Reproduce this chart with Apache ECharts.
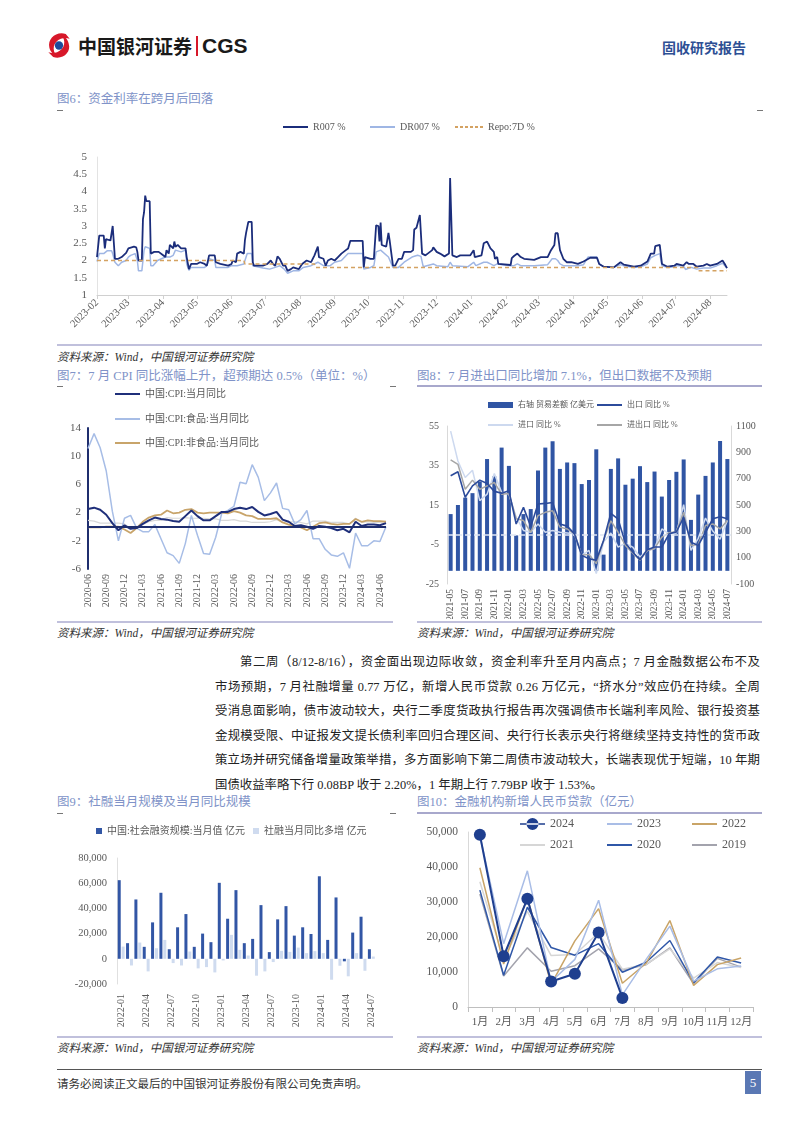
<!DOCTYPE html>
<html><head><meta charset="utf-8">
<script src="https://cdn.jsdelivr.net/npm/echarts@6/dist/echarts.min.js"></script>
<style>
body{margin:0;width:802px;height:1133px;position:relative;background:#fff;font-family:"Liberation Serif","Noto Sans CJK SC",serif;overflow:hidden}
.t{position:absolute;font-size:12.5px;color:#8093c8;white-space:nowrap;line-height:16px}
.src{position:absolute;font-size:11.5px;font-style:italic;color:#333;white-space:nowrap;line-height:14px}
.hl{position:absolute;height:2px;background:#c0c0dc}
.dash{position:absolute;width:6px;height:1px;background:#777}
.ch{position:absolute}
.para{position:absolute;left:215px;width:545px;font-size:12.4px;color:#222;line-height:24.6px;top:650px}
.para div{text-align:justify;text-align-last:justify;white-space:nowrap}
</style></head>
<body>
<svg class="ch" style="left:45px;top:31px" width="28" height="29" viewBox="0 0 28 30">
<path d="M21 3 C11 0 2 8 4 17 C5 22 9 25 12 26 C6 20 8 11 16 8 C19 7 22 7 25 8 Z" fill="#d7182a"/>
<path d="M8 27 C18 30 27 22 24 13 C23 8 19 5 16 4 C22 10 20 19 12 22 C9 23 6 23 3 22 Z" fill="#d7182a"/>
<circle cx="14" cy="15" r="4.3" fill="#1d4a9c"/>
</svg>
<div class="ch" style="left:78px;top:33px;font-family:'Noto Sans CJK SC';font-weight:700;font-size:19px;line-height:26px;color:#1a1a1a">中国银河证券</div>
<div class="ch" style="left:196px;top:36px;width:2px;height:20px;background:#d7182a"></div>
<div class="ch" style="left:202px;top:32px;font-family:'Liberation Sans';font-weight:700;font-size:21px;line-height:27px;color:#1a1a1a">CGS</div>
<div class="ch" style="left:662px;top:37px;font-family:'Noto Sans CJK SC';font-weight:700;font-size:14px;line-height:20px;color:#2d4f94">固收研究报告</div>

<div class="t" style="left:57px;top:91px">图6：资金利率在跨月后回落</div>
<div class="dash" style="left:57px;top:110px"></div><div class="dash" style="left:757px;top:110px"></div>
<div id="c6" class="ch" style="left:50px;top:115px;width:720px;height:228px"></div>
<div class="hl" style="left:57px;top:344px;width:705px"></div>
<div class="src" style="left:57px;top:350px">资料来源：Wind，中国银河证券研究院</div>

<div class="t" style="left:57px;top:368px">图7：7 月 CPI 同比涨幅上升，超预期达 0.5%（单位：%）</div>
<div class="dash" style="left:57px;top:386px"></div><div class="dash" style="left:390px;top:386px"></div>
<div class="t" style="left:417px;top:368px">图8：7 月进出口同比增加 7.1%，但出口数据不及预期</div>
<div class="ch" style="left:417px;top:385px;width:345px;height:1.5px;background:#a8a8cc"></div>
<div id="c7" class="ch" style="left:50px;top:385px;width:350px;height:234px"></div>
<div id="c8" class="ch" style="left:405px;top:387px;width:370px;height:232px"></div>
<div class="hl" style="left:57px;top:621px;width:336px"></div>
<div class="hl" style="left:417px;top:621px;width:345px"></div>
<div class="src" style="left:57px;top:626px">资料来源：Wind，中国银河证券研究院</div>
<div class="src" style="left:417px;top:626px">资料来源：Wind，中国银河证券研究院</div>

<div class="para">
<div style="margin-left:25px">第二周（8/12-8/16），资金面出现边际收敛，资金利率升至月内高点；7 月金融数据公布不及</div>
<div>市场预期，7 月社融增量 0.77 万亿，新增人民币贷款 0.26 万亿元，“挤水分”效应仍在持续。全周</div>
<div>受消息面影响，债市波动较大，央行二季度货政执行报告再次强调债市长端利率风险、银行投资基</div>
<div>金规模受限、中证报发文提长债利率回归合理区间、央行行长表示央行将继续坚持支持性的货币政</div>
<div>策立场并研究储备增量政策举措，多方面影响下第二周债市波动较大，长端表现优于短端，10 年期</div>
<div style="text-align-last:left">国债收益率略下行 0.08BP 收于 2.20%，1 年期上行 7.79BP 收于 1.53%。</div>
</div>

<div class="t" style="left:57px;top:794px">图9：社融当月规模及当月同比规模</div>
<div class="dash" style="left:57px;top:813px"></div><div class="dash" style="left:390px;top:813px"></div>
<div class="t" style="left:417px;top:794px">图10：金融机构新增人民币贷款（亿元）</div>
<div class="ch" style="left:417px;top:812px;width:345px;height:1.5px;background:#a8a8cc"></div>
<div id="c9" class="ch" style="left:50px;top:815px;width:350px;height:220px"></div>
<div id="c10" class="ch" style="left:405px;top:815px;width:370px;height:220px"></div>
<div class="hl" style="left:57px;top:1036px;width:336px"></div>
<div class="hl" style="left:417px;top:1036px;width:345px"></div>
<div class="src" style="left:57px;top:1041px">资料来源：Wind，中国银河证券研究院</div>
<div class="src" style="left:417px;top:1041px">资料来源：Wind，中国银河证券研究院</div>

<div class="ch" style="left:57px;top:1069px;width:705px;height:1px;background:#555"></div>
<div class="ch" style="left:57px;top:1076px;font-size:11.5px;line-height:15px;color:#333;font-family:'Noto Sans CJK SC'">请务必阅读正文最后的中国银河证券股份有限公司免责声明。</div>
<div class="ch" style="left:745px;top:1071px;width:16px;height:23px;background:#5a78b4;color:#fff;font-size:13px;line-height:23px;text-align:center">5</div>

<script>
// ---------------- DATA ----------------
const fig6Legend = ['R007 %', 'DR007 %', 'Repo:7D %'];
const r007 = [
['2023-02-01',2.10],['2023-02-03',2.72],['2023-02-07',2.72],['2023-02-08',2.35],['2023-02-09',2.62],['2023-02-13',2.58],['2023-02-15',3.00],['2023-02-17',2.05],['2023-02-20',2.05],['2023-02-23',2.10],['2023-02-27',2.22],
['2023-03-01',2.35],['2023-03-06',2.40],['2023-03-08',2.38],['2023-03-09',2.25],['2023-03-10',2.00],['2023-03-13',2.00],['2023-03-14',3.20],['2023-03-15',3.40],['2023-03-16',3.88],['2023-03-17',3.72],['2023-03-20',3.72],['2023-03-21',2.20],['2023-03-24',2.25],['2023-03-28',2.25],
['2023-04-01',2.15],['2023-04-03',2.10],['2023-04-04',2.30],['2023-04-06',2.20],['2023-04-07',2.45],['2023-04-10',2.35],['2023-04-11',2.55],['2023-04-12',2.40],['2023-04-14',2.45],['2023-04-17',2.35],['2023-04-21',2.35],['2023-04-22',2.10],['2023-04-24',1.75],['2023-04-26',1.90],
['2023-05-01',1.90],['2023-05-04',1.95],['2023-05-08',1.90],['2023-05-10',1.85],['2023-05-11',1.85],['2023-05-12',2.15],['2023-05-17',2.15],['2023-05-18',1.95],['2023-05-22',1.90],['2023-05-29',1.85],
['2023-06-01',1.90],['2023-06-02',2.00],['2023-06-05',1.95],['2023-06-06',2.20],['2023-06-09',2.25],['2023-06-12',2.20],['2023-06-13',2.60],['2023-06-14',2.80],['2023-06-16',3.12],['2023-06-19',3.12],['2023-06-20',1.95],['2023-06-21',1.85],['2023-06-29',1.85],
['2023-07-03',1.90],['2023-07-06',2.00],['2023-07-08',1.90],['2023-07-10',1.85],['2023-07-12',2.12],['2023-07-14',2.05],['2023-07-17',1.85],['2023-07-19',1.85],['2023-07-21',1.70],['2023-07-24',1.75],['2023-07-26',1.80],['2023-07-31',1.75],
['2023-08-03',1.90],['2023-08-07',2.00],['2023-08-11',1.95],['2023-08-14',2.15],['2023-08-17',2.40],['2023-08-18',2.10],['2023-08-22',2.05],['2023-08-24',1.85],['2023-08-26',2.00],['2023-08-29',2.05],
['2023-09-01',2.00],['2023-09-04',2.10],['2023-09-07',2.20],['2023-09-11',2.30],['2023-09-13',2.35],['2023-09-15',2.57],['2023-09-26',2.57],['2023-09-27',1.80],['2023-09-28',2.10],
['2023-10-03',2.05],['2023-10-06',2.05],['2023-10-08',3.02],['2023-10-10',3.00],['2023-10-11',2.55],['2023-10-12',3.10],['2023-10-13',2.45],['2023-10-17',2.40],['2023-10-19',2.80],['2023-10-20',2.60],['2023-10-23',1.85],['2023-10-25',1.85],['2023-10-28',2.05],['2023-10-31',2.05],
['2023-11-02',2.25],['2023-11-08',2.25],['2023-11-10',2.30],['2023-11-11',2.90],['2023-11-13',2.95],['2023-11-16',3.32],['2023-11-18',2.20],['2023-11-21',2.15],['2023-11-23',2.20],['2023-11-27',2.30],['2023-11-28',2.38],
['2023-12-01',2.25],['2023-12-04',2.20],['2023-12-08',2.12],['2023-12-12',2.20],['2023-12-13',4.39],['2023-12-15',2.15],['2023-12-19',2.10],['2023-12-22',2.15],['2023-12-31',2.15],
['2024-01-03',2.30],['2024-01-04',2.10],['2024-01-10',2.15],['2024-01-12',2.50],['2024-01-13',2.55],['2024-01-15',2.55],['2024-01-18',2.35],['2024-01-21',2.25],['2024-01-22',2.05],['2024-01-24',2.10],['2024-01-25',1.90],
['2024-02-05',1.87],['2024-02-06',2.07],['2024-02-08',2.13],['2024-02-11',2.20],['2024-02-14',2.10],['2024-02-17',2.05],['2024-02-26',2.02],
['2024-03-03',2.10],['2024-03-09',2.10],['2024-03-12',2.30],['2024-03-15',2.45],['2024-03-16',2.79],['2024-03-18',2.79],['2024-03-20',2.30],['2024-03-23',2.05],['2024-03-26',1.95],['2024-03-30',1.95],
['2024-04-05',1.90],['2024-04-10',1.97],['2024-04-16',2.08],['2024-04-22',2.08],['2024-04-24',1.90],['2024-04-28',1.82],
['2024-05-07',1.80],['2024-05-13',1.95],['2024-05-16',1.88],['2024-05-25',1.82],['2024-05-31',1.85],
['2024-06-06',1.97],['2024-06-09',2.20],['2024-06-12',2.20],['2024-06-13',2.42],['2024-06-17',2.45],['2024-06-19',1.90],['2024-06-24',1.82],['2024-06-30',1.85],
['2024-07-02',1.90],['2024-07-08',1.85],['2024-07-11',1.95],['2024-07-13',1.90],['2024-07-17',1.90],['2024-07-20',1.82],['2024-07-26',1.85],['2024-07-29',1.90],
['2024-08-01',1.85],['2024-08-07',1.90],['2024-08-12',2.00],['2024-08-14',1.90],['2024-08-16',1.78]];
const dr007 = [
['2023-02-01',1.97],['2023-02-03',2.20],['2023-02-07',2.20],['2023-02-10',2.28],['2023-02-14',2.28],['2023-02-15',2.20],['2023-02-17',1.95],['2023-02-20',1.85],['2023-02-23',1.95],['2023-02-27',2.00],
['2023-03-01',2.10],['2023-03-03',2.15],['2023-03-07',2.20],['2023-03-09',2.00],['2023-03-10',1.70],['2023-03-13',1.70],['2023-03-15',2.30],['2023-03-16',2.40],['2023-03-20',2.35],['2023-03-21',1.85],['2023-03-23',1.85],['2023-03-27',2.00],
['2023-04-03',2.10],['2023-04-07',2.10],['2023-04-10',2.15],['2023-04-12',2.30],['2023-04-17',2.25],['2023-04-21',2.30],['2023-04-22',1.90],['2023-04-24',1.72],['2023-04-26',1.80],
['2023-05-01',1.80],['2023-05-08',1.80],['2023-05-10',1.85],['2023-05-12',2.05],['2023-05-17',2.00],['2023-05-18',1.80],['2023-05-29',1.80],
['2023-06-01',1.85],['2023-06-06',1.85],['2023-06-12',1.90],['2023-06-15',2.20],['2023-06-19',2.20],['2023-06-20',1.85],['2023-06-29',1.78],
['2023-07-05',1.75],['2023-07-10',1.80],['2023-07-14',1.85],['2023-07-18',1.75],['2023-07-21',1.63],['2023-07-26',1.70],['2023-07-31',1.70],
['2023-08-04',1.80],['2023-08-11',1.85],['2023-08-17',1.95],['2023-08-22',1.85],['2023-08-28',1.85],
['2023-09-01',1.95],['2023-09-07',2.00],['2023-09-13',2.20],['2023-09-26',2.20],['2023-09-27',1.75],
['2023-10-03',1.80],['2023-10-06',1.85],['2023-10-08',2.25],['2023-10-12',2.30],['2023-10-19',2.10],['2023-10-23',1.80],['2023-10-28',1.80],
['2023-11-02',1.95],['2023-11-09',2.10],['2023-11-14',2.15],['2023-11-17',2.12],['2023-11-19',1.82],['2023-11-28',1.90],
['2023-12-01',1.85],['2023-12-11',1.82],['2023-12-13',1.95],['2023-12-15',1.85],['2023-12-29',1.82],
['2024-01-03',1.95],['2024-01-05',1.85],['2024-01-12',1.95],['2024-01-15',1.95],['2024-01-18',1.90],['2024-01-21',1.85],['2024-01-24',1.90],['2024-01-25',1.85],
['2024-02-05',1.85],['2024-02-08',1.85],['2024-02-11',1.90],['2024-02-14',1.85],['2024-02-26',1.85],
['2024-03-09',1.88],['2024-03-13',2.05],['2024-03-16',2.05],['2024-03-18',2.00],['2024-03-20',1.90],['2024-03-23',1.85],
['2024-04-05',1.85],['2024-04-10',1.88],['2024-04-14',2.10],['2024-04-22',2.10],['2024-04-24',1.90],['2024-04-28',1.82],
['2024-05-07',1.80],['2024-05-13',1.88],['2024-05-16',1.85],['2024-05-25',1.80],['2024-05-31',1.82],
['2024-06-06',1.90],['2024-06-09',2.08],['2024-06-13',2.15],['2024-06-17',2.20],['2024-06-19',1.85],['2024-06-24',1.80],['2024-06-30',1.82],
['2024-07-02',1.85],['2024-07-08',1.85],['2024-07-10',1.74],['2024-07-15',1.80],['2024-07-20',1.75],['2024-07-26',1.78],
['2024-08-01',1.78],['2024-08-07',1.85],['2024-08-12',1.92],['2024-08-16',1.78]];
const repo7d = [['2023-02-01',2.0],['2023-06-12',2.0],['2023-06-13',1.9],['2023-08-14',1.9],['2023-08-15',1.8],['2024-07-21',1.8],['2024-07-22',1.7],['2024-08-16',1.7]];

function months(y0,m0,y1,m1){const a=[];let y=y0,m=m0;while(y<y1||(y===y1&&m<=m1)){a.push(y+'-'+String(m).padStart(2,'0'));m++;if(m>12){m=1;y++;}}return a;}

const cpiMonths = months(2020,6,2024,7);
const cpiNames = ['中国:CPI:当月同比','中国:CPI:食品:当月同比','中国:CPI:非食品:当月同比'];
const cpiAll = [2.5,2.7,2.4,1.7,0.5,-0.5,0.2, -0.3,-0.2,0.4,0.9,1.3,1.1,1.0,0.8,0.7,1.5,2.3,1.5, 0.9,0.9,1.5,2.1,2.1,2.5,2.7,2.5,2.8,2.1,1.6,1.8, 2.1,1.0,0.7,0.1,0.2,0.0,-0.3,0.1,0.0,-0.2,-0.5,-0.3, -0.8,0.7,0.1,0.3,0.3,0.2,0.5];
const cpiFood = [11.1,13.2,11.2,7.9,2.2,-2.0,1.2, 1.6,-0.2,-0.7,-0.7,0.3,-1.7,-3.7,-4.1,-5.2,-2.4,1.6,-1.2, -3.8,-3.9,-1.5,1.9,2.3,2.9,6.3,6.1,8.8,7.0,3.7,4.8, 6.2,2.6,2.4,0.4,1.0,2.3,-1.7,-1.7,-3.2,-4.0,-4.2,-3.7, -5.9,-0.9,-2.7,-2.7,-2.0,-2.1,0.0];
const cpiNonFood = [-0.1,-0.1,-0.1,0.0,0.0,0.0,-0.4, -0.9,-0.2,0.7,1.3,1.6,1.7,2.3,1.9,2.0,2.4,2.5,2.0, 1.9,2.0,2.0,2.0,1.9,2.2,2.0,1.6,1.5,1.1,1.1,1.1, 1.2,0.6,0.3,0.1,-0.1,-0.5,0.0,0.5,0.6,0.4,0.3,0.4, 0.4,1.1,0.7,0.9,0.8,0.8,0.7];
const cpiCore = [0.9,0.8,0.5,0.5,0.5,0.5,0.4, -0.3,0.0,0.3,0.7,0.9,0.9,1.3,1.2,1.2,1.3,1.2,1.2, 1.2,1.1,1.1,0.9,0.9,1.0,0.8,0.8,0.6,0.6,0.6,0.7, 1.0,0.6,0.7,0.7,0.6,0.4,0.8,0.8,0.8,0.6,0.6,0.6, 0.4,1.2,0.6,0.7,0.6,0.6,0.4];

const tradeMonths = months(2021,5,2024,7);
const tradeNames = ['右轴 贸易差额 亿美元','出口 同比 %','进口 同比 %','进出口 同比 %'];
const tradeBalance = [431,500,556,590,679,849,718,936,797,269,431,469,762,936,985,774,823,818,659,690,923,123,774,854,654,700,795,674,754,564,690,752,846,387,579,721,823,987,849];
const exportYoY = [29.8,31.8,18.9,24.7,27.6,25.9,21.9,21.0,22.2,5.4,13.8,4.1,15.5,15.8,16.3,5.4,4.3,0.4,-10.5,-12.2,-13.0,-3.0,10.8,7.8,-4.3,-8.8,-12.7,-7.6,-6.3,-6.3,0.4,1.4,8.8,-3.8,-5.5,1.2,8.0,9.1,8.0];
const importYoY = [52.4,37.3,28.9,32.6,17.2,20.5,31.0,21.4,20.5,8.8,2.1,1.2,5.4,1.2,2.1,1.2,0.8,0.4,-10.5,-8.0,-19.7,-3.8,0.8,-6.3,-4.3,-6.3,-11.3,-8.0,-7.0,2.9,0.4,0.8,15.2,-8.0,-1.9,8.4,1.8,-2.3,7.2];
const totalYoY = [37.8,35.6,23.0,27.6,23.0,24.7,26.4,20.5,20.8,8.0,7.1,1.2,9.6,11.3,12.1,3.8,2.9,0.4,-10.5,-10.0,-14.7,-3.0,7.0,1.2,-5.5,-9.3,-13.0,-8.0,-7.0,-1.3,0.9,1.5,11.3,-5.5,-5.0,4.6,5.4,2.9,7.1];

const sfMonths = months(2022,1,2024,7);
const sfNames = ['中国:社会融资规模:当月值 亿元','社融当月同比多增 亿元'];
const sfMonthly = [62400,12400,47100,9500,28900,52400,7600,25000,35500,9500,20000,13200,60300,31800,54500,12400,15800,42600,5300,31300,41800,18400,25000,19700,65500,15000,48700,-2000,20800,33400,7600];
const sfYoY = [9700,-5300,12900,-10000,8400,15000,-3400,-5300,5800,-7600,-6600,-10800,-1300,19000,7100,2600,-13400,-10000,-2600,6300,5500,8900,4500,6100,4500,-16600,-5500,-13900,4500,-9500,1800];

const loanMonths = ['1月','2月','3月','4月','5月','6月','7月','8月','9月','10月','11月','12月'];
const loan2024 = [49200,14500,30900,7300,9500,21300,2600];
const loan2023 = [49000,18100,38900,7200,13600,30500,3459,13600,23100,7384,10900,11700];
const loan2022 = [39800,12300,31300,6454,18900,28100,6790,12500,24700,6152,12100,14000];
const loan2021 = [35800,13600,27300,14700,15000,21200,10800,12200,16600,8262,12700,11300];
const loan2020 = [33400,9057,28500,17000,14800,18100,9927,12800,19000,6898,14300,12600];
const loan2019 = [32300,8858,16900,10200,11800,16600,10600,12100,16900,6613,13900,11400];

// ---------------- CHARTS ----------------
const FONT = "'Liberation Serif','Noto Sans CJK SC',serif";
const AX = '#595959';
const thousands = v => v.toLocaleString('en-US');
const LINE_ICON = 'path://M0,0H25V2H0Z';
const DASH_ICON = 'path://M0,0H3V2H0Z M5,0H8V2H5Z M10,0H13V2H10Z M15,0H18V2H15Z M20,0H23V2H20Z M25,0H28V2H25Z';
const DOT_ICON = 'path://M0,5.2H25V6.8H0Z M6.5,6A6,6 0 1,0 18.5,6A6,6 0 1,0 6.5,6Z';
function mk(id){ return echarts.init(document.getElementById(id)); }
function lg(name, left, top, o){
  return Object.assign({data:[name], left:left, top:top, padding:0, icon:LINE_ICON, itemWidth:25, itemHeight:2, selectedMode:false,
    textStyle:{fontSize:10,color:AX,fontFamily:FONT}}, o||{});
}
const baseGrid = {containLabel:false, outerBoundsMode:'none'};

// Fig 6
mk('c6').setOption({
  animation:false, textStyle:{fontFamily:FONT},
  legend:[lg(fig6Legend[0],233,7), lg(fig6Legend[1],320,7), lg(fig6Legend[2],405,7,{icon:DASH_ICON,itemWidth:28})],
  grid:Object.assign({left:47,right:43,top:42,height:138}, baseGrid),
  xAxis:{type:'time', min:'2023-02-01', max:'2024-08-16', splitNumber:18,
    axisLine:{lineStyle:{color:'#d0d0d0'}}, axisTick:{show:true,length:4,lineStyle:{color:'#d0d0d0'}},
    axisLabel:{rotate:45, formatter:'{yyyy}-{MM}', color:AX, fontSize:10.5, margin:6, hideOverlap:false, fontFamily:FONT},
    splitLine:{show:false}},
  yAxis:{type:'value', min:1, max:5, interval:0.5, axisLine:{show:true,lineStyle:{color:'#e3e3e3'}}, axisTick:{show:false},
    axisLabel:{color:AX,fontSize:11,margin:10,fontFamily:FONT}, splitLine:{show:false}},
  series:[
    {name:fig6Legend[0], type:'line', data:r007, showSymbol:false, symbol:'none', lineStyle:{color:'#1b2d7b',width:1.8}, itemStyle:{color:'#1b2d7b'}, z:3},
    {name:fig6Legend[1], type:'line', data:dr007, showSymbol:false, symbol:'none', lineStyle:{color:'#9fb6e4',width:1.5}, itemStyle:{color:'#9fb6e4'}, z:2},
    {name:fig6Legend[2], type:'line', data:repo7d, showSymbol:false, symbol:'none', lineStyle:{color:'#d4a262',width:1.5,type:[4,3]}, itemStyle:{color:'#d4a262'}, z:4}
  ]
});

// Fig 7
mk('c7').setOption({
  animation:false, textStyle:{fontFamily:FONT},
  legend:[lg(cpiNames[0],65,4), lg(cpiNames[1],65,29), lg(cpiNames[2],65,53)],
  grid:Object.assign({left:38,right:14,top:43,height:141}, baseGrid),
  xAxis:{type:'category', data:cpiMonths, boundaryGap:false, axisLine:{show:false,onZero:false}, axisTick:{show:false},
    axisLabel:{rotate:90, interval:2, color:AX, fontSize:10, margin:5, fontFamily:FONT}},
  yAxis:{type:'value', min:-6, max:14, interval:4, axisLine:{show:true,lineStyle:{color:'#1f2e6e',width:2}}, axisTick:{show:false},
    axisLabel:{color:AX,fontSize:11,margin:7,fontFamily:FONT}, splitLine:{show:false}},
  series:[
    {name:'核心CPI', type:'line', data:cpiCore, symbol:'none', lineStyle:{color:'#d8d8d8',width:1.2}, z:1},
    {name:cpiNames[1], type:'line', data:cpiFood, symbol:'none', lineStyle:{color:'#a7bde6',width:1.5}, itemStyle:{color:'#a7bde6'}, z:2},
    {name:cpiNames[2], type:'line', data:cpiNonFood, symbol:'none', lineStyle:{color:'#c8a46a',width:1.8}, itemStyle:{color:'#c8a46a'}, z:3},
    {name:cpiNames[0], type:'line', data:cpiAll, symbol:'none', lineStyle:{color:'#1f2f7a',width:2}, itemStyle:{color:'#1f2f7a'}, z:4,
      markLine:{silent:true, symbol:'none', label:{show:false}, data:[{yAxis:0}], lineStyle:{color:'#1f2e6e',width:2,type:'solid'}}}
  ]
});

// Fig 8
const lg8 = (n,l,t,o) => lg(n,l,t,Object.assign({textStyle:{fontSize:8,color:AX,fontFamily:FONT}},o||{}));
mk('c8').setOption({
  animation:false, textStyle:{fontFamily:FONT},
  legend:[lg8(tradeNames[0],83,14,{icon:'rect',itemHeight:6}), lg8(tradeNames[1],192,14), lg8(tradeNames[2],83,34), lg8(tradeNames[3],192,34)],
  grid:Object.assign({left:42,right:44,top:39,height:158}, baseGrid),
  xAxis:{type:'category', data:tradeMonths, axisLine:{show:false,onZero:false}, axisTick:{show:false},
    axisLabel:{rotate:90, interval:1, color:AX, fontSize:9.5, margin:5, fontFamily:FONT}},
  yAxis:[
    {type:'value', min:-25, max:55, interval:20, axisLine:{show:true,lineStyle:{color:'#d9d9d9'}}, axisTick:{show:false},
      axisLabel:{color:AX,fontSize:10,margin:8,fontFamily:FONT}, splitLine:{show:false}},
    {type:'value', min:-100, max:1100, interval:200, position:'right', axisLine:{show:true,lineStyle:{color:'#d9d9d9'}}, axisTick:{show:false},
      axisLabel:{color:AX,fontSize:10,margin:5,fontFamily:FONT,formatter:v=>String(v)}, splitLine:{show:false}}
  ],
  series:[
    {name:tradeNames[0], type:'bar', yAxisIndex:1, data:tradeBalance, barWidth:4, itemStyle:{color:'#3055a4'}, z:1},
    {name:tradeNames[2], type:'line', data:importYoY, symbol:'none', lineStyle:{color:'#cdd9ef',width:1.5}, itemStyle:{color:'#cdd9ef'}, z:3},
    {name:tradeNames[3], type:'line', data:totalYoY, symbol:'none', lineStyle:{color:'#a6a6a6',width:1.5}, itemStyle:{color:'#a6a6a6'}, z:4},
    {name:tradeNames[1], type:'line', data:exportYoY, symbol:'none', lineStyle:{color:'#2c4b9b',width:1.6}, itemStyle:{color:'#2c4b9b'}, z:5,
      markLine:{silent:true, symbol:'none', label:{show:false}, data:[{yAxis:0}], lineStyle:{color:'#dfe6f3',width:1.5,type:'dashed'}}}
  ]
});

// Fig 9
mk('c9').setOption({
  animation:false, textStyle:{fontFamily:FONT},
  legend:[lg(sfNames[0],46,11,{icon:'rect',itemWidth:6,itemHeight:6}), lg(sfNames[1],203,11,{icon:'rect',itemWidth:6,itemHeight:6})],
  grid:Object.assign({left:67,right:24.5,top:43,height:126}, baseGrid),
  xAxis:{type:'category', data:sfMonths, axisLine:{show:false,onZero:false}, axisTick:{show:false},
    axisLabel:{rotate:90, interval:2, color:AX, fontSize:10, margin:10, fontFamily:FONT}},
  yAxis:{type:'value', min:-20000, max:80000, interval:20000, axisLine:{show:true,lineStyle:{color:'#e0e0e0'}}, axisTick:{show:false},
    axisLabel:{color:AX,fontSize:10.5,margin:10,formatter:thousands,fontFamily:FONT}, splitLine:{show:false}},
  series:[
    {name:sfNames[0], type:'bar', data:sfMonthly, barWidth:3, barGap:'30%', itemStyle:{color:'#3256a5'}},
    {name:sfNames[1], type:'bar', data:sfYoY, barWidth:3, barGap:'30%', itemStyle:{color:'#cfdbef'}}
  ]
});

// Fig 10
const lg10 = (n,l,t,o) => lg(n,l,t,Object.assign({textStyle:{fontSize:12,color:AX,fontFamily:FONT}},o||{}));
const yrs = ['2024','2023','2022','2021','2020','2019'];
const ln = (name, data, color, z, w) => ({name, type:'line', data, symbol:'none', lineStyle:{color, width:w||1.5}, itemStyle:{color}, z});
mk('c10').setOption({
  animation:false, textStyle:{fontFamily:FONT},
  legend:[lg10(yrs[0],115,3,{icon:DOT_ICON,itemHeight:12}), lg10(yrs[1],202,3), lg10(yrs[2],287,3), lg10(yrs[3],115,24), lg10(yrs[4],202,24), lg10(yrs[5],287,24)],
  grid:Object.assign({left:63,right:22,top:17,height:175}, baseGrid),
  xAxis:{type:'category', data:loanMonths, axisLine:{lineStyle:{color:'#bfbfbf'}}, axisTick:{show:true,lineStyle:{color:'#bfbfbf'}},
    axisLabel:{color:AX, fontSize:11, margin:10, interval:0, fontFamily:FONT}},
  yAxis:{type:'value', min:0, max:50000, interval:10000, axisLine:{show:true,lineStyle:{color:'#d9d9d9'}}, axisTick:{show:false},
    axisLabel:{color:AX,fontSize:11.5,margin:10,formatter:thousands,fontFamily:FONT}, splitLine:{show:false}},
  series:[
    ln(yrs[5], loan2019, '#a3a3ad', 1),
    ln(yrs[3], loan2021, '#d6d6d6', 2),
    ln(yrs[4], loan2020, '#2f57a8', 3),
    ln(yrs[2], loan2022, '#c9a467', 4),
    ln(yrs[1], loan2023, '#a9bde6', 5),
    {name:yrs[0], type:'line', data:loan2024, symbol:'circle', symbolSize:12, lineStyle:{color:'#1f3f8f',width:2}, itemStyle:{color:'#1f3f8f'}, z:6}
  ]
});
</script>
</body></html>
